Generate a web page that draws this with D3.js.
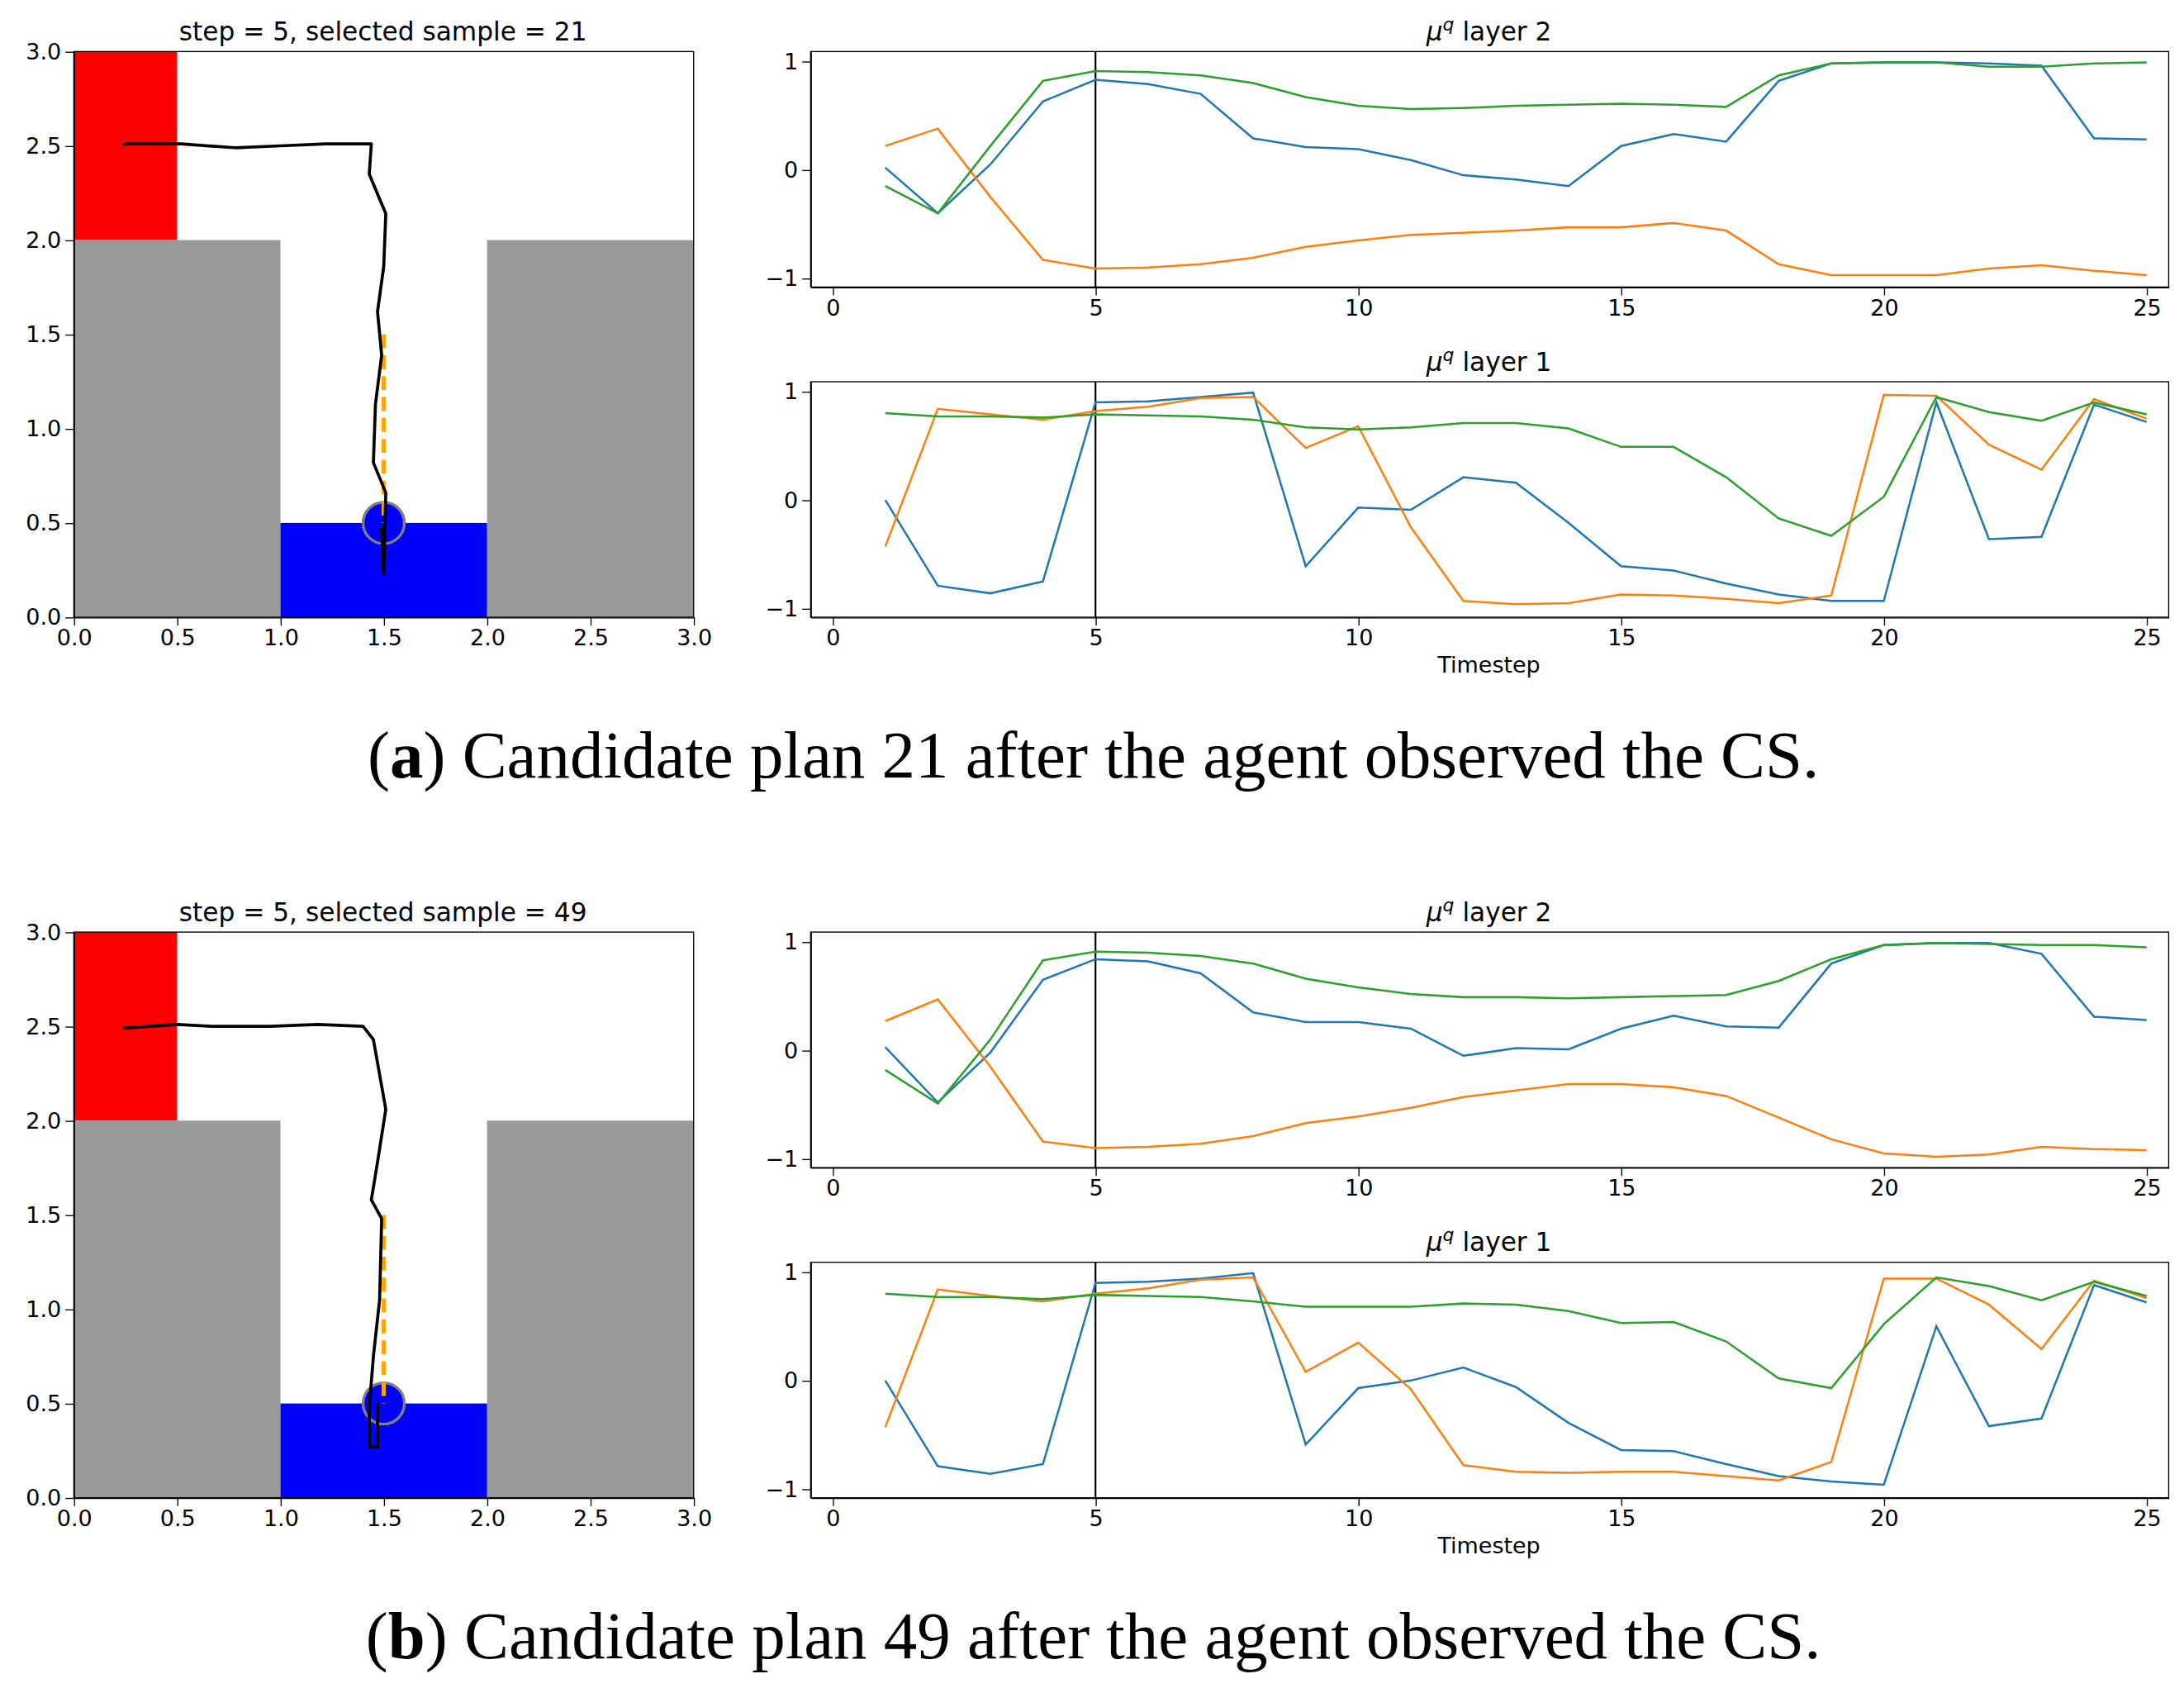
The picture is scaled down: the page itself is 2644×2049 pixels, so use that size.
<!DOCTYPE html>
<html><head><meta charset="utf-8">
<script src="https://cdn.jsdelivr.net/npm/d3@7"></script>
<style>body{margin:0;background:#fff}text{font-family:"DejaVu Sans",sans-serif}</style>
</head><body><div id="fig"></div>
<script>
// ── DATA ──────────────────────────────────────────────
const steps = d3.range(1, 26);
const tickX = [0, 5, 10, 15, 20, 25];
const tickY = [-1, 0, 1];
const gridTicks = [0, 0.5, 1, 1.5, 2, 2.5, 3];
const seriesColors = ["#1f77b4", "#ff7f0e", "#2ca02c"];

const aL2 = [
  [0.02,-0.40,0.05,0.63,0.83,0.79,0.70,0.29,0.21,0.19,0.09,-0.05,-0.09,-0.15,0.22,0.33,0.26,0.82,0.98,0.99,0.99,0.98,0.96,0.29,0.28],
  [0.22,0.38,-0.25,-0.83,-0.91,-0.90,-0.87,-0.81,-0.71,-0.65,-0.60,-0.58,-0.56,-0.53,-0.53,-0.49,-0.56,-0.87,-0.97,-0.97,-0.97,-0.91,-0.88,-0.93,-0.97],
  [-0.15,-0.40,0.22,0.82,0.91,0.90,0.87,0.80,0.67,0.59,0.56,0.57,0.59,0.60,0.61,0.60,0.58,0.87,0.98,0.99,0.99,0.95,0.95,0.98,0.99]
];
const aL1 = [
  [0.0,-0.79,-0.86,-0.75,0.90,0.91,0.95,0.99,-0.61,-0.07,-0.09,0.21,0.16,-0.21,-0.61,-0.65,-0.77,-0.87,-0.93,-0.93,0.90,-0.36,-0.34,0.88,0.72],
  [-0.43,0.84,0.79,0.74,0.82,0.86,0.94,0.95,0.48,0.68,-0.25,-0.93,-0.96,-0.95,-0.87,-0.88,-0.91,-0.95,-0.88,0.97,0.96,0.51,0.28,0.93,0.75],
  [0.80,0.77,0.77,0.76,0.79,0.78,0.77,0.74,0.67,0.65,0.67,0.71,0.71,0.66,0.49,0.49,0.21,-0.17,-0.33,0.03,0.95,0.81,0.73,0.90,0.79]
];
const bL2 = [
  [0.03,-0.48,-0.02,0.65,0.84,0.82,0.71,0.35,0.26,0.26,0.20,-0.05,0.02,0.01,0.20,0.32,0.22,0.21,0.80,0.97,0.99,0.99,0.89,0.31,0.28],
  [0.27,0.47,-0.15,-0.84,-0.90,-0.89,-0.86,-0.79,-0.67,-0.61,-0.53,-0.43,-0.37,-0.31,-0.31,-0.34,-0.42,-0.62,-0.82,-0.95,-0.98,-0.96,-0.89,-0.91,-0.92],
  [-0.18,-0.49,0.10,0.83,0.91,0.90,0.87,0.80,0.66,0.58,0.52,0.49,0.49,0.48,0.49,0.50,0.51,0.64,0.84,0.97,0.99,0.98,0.97,0.97,0.95]
];
const bL1 = [
  [0.0,-0.79,-0.86,-0.77,0.90,0.91,0.94,0.99,-0.59,-0.07,0.0,0.12,-0.06,-0.39,-0.64,-0.65,-0.77,-0.88,-0.93,-0.96,0.50,-0.42,-0.35,0.88,0.72],
  [-0.43,0.84,0.78,0.73,0.80,0.85,0.93,0.95,0.08,0.35,-0.08,-0.78,-0.84,-0.85,-0.84,-0.84,-0.88,-0.92,-0.75,0.94,0.94,0.70,0.29,0.92,0.76],
  [0.80,0.77,0.77,0.75,0.79,0.78,0.77,0.73,0.68,0.68,0.68,0.71,0.70,0.64,0.53,0.54,0.36,0.02,-0.07,0.52,0.95,0.87,0.74,0.91,0.78]
];
const pathA = [[0.24,2.50],[0.25,2.51],[0.52,2.51],[0.78,2.49],[1.0,2.50],[1.22,2.51],[1.44,2.51],[1.43,2.35],[1.51,2.14],[1.50,1.86],[1.47,1.62],[1.49,1.39],[1.46,1.13],[1.45,0.82],[1.51,0.66],[1.50,0.23],[1.49,0.47],[1.48,0.47]];
const pathB = [[0.24,2.49],[0.5,2.51],[0.67,2.50],[0.95,2.50],[1.18,2.51],[1.40,2.50],[1.45,2.43],[1.51,2.06],[1.47,1.78],[1.44,1.58],[1.49,1.48],[1.48,1.05],[1.45,0.75],[1.43,0.48],[1.43,0.27],[1.47,0.27],[1.47,0.5]];
const plan = [[1.5,1.5],[1.5,0.5]];
const panels = [
  {title: "step = 5, selected sample = 21", l2: aL2, l1: aL1, traj: pathA, letter: "a", caption: " Candidate plan 21 after the agent observed the CS."},
  {title: "step = 5, selected sample = 49", l2: bL2, l1: bL1, traj: pathB, letter: "b", caption: " Candidate plan 49 after the agent observed the CS."}
];

// ── SETUP (drawn in 1568-wide units, scaled up) ────────
const W = 2644, H = 2049, k = W / 1568;
const svg = d3.select("#fig").append("svg").attr("width", W).attr("height", H);
const root = svg.append("g").attr("transform", `scale(${k})`);

function axisStyle(g) {
  g.selectAll("text").style("font-size", "16px").attr("fill", "#000");
  g.selectAll("line,path").attr("stroke", "#000").attr("stroke-width", 0.8);
}

function gridWorld(g, p) {
  const x = d3.scaleLinear().domain([0, 3]).range([53, 498]);
  const y = d3.scaleLinear().domain([0, 3]).range([443, 37]);
  const rect = (x0, y0, x1, y1, c) => g.append("rect").attr("x", x(x0)).attr("y", y(y1))
    .attr("width", x(x1) - x(x0)).attr("height", y(y0) - y(y1)).attr("fill", c);
  rect(0, 2, 0.5, 3, "#ff0000");
  rect(0, 0, 1, 2, "#999999");
  rect(2, 0, 3, 2, "#999999");
  rect(1, 0, 2, 0.5, "#0000ff");
  g.append("circle").attr("cx", x(1.5)).attr("cy", y(0.5)).attr("r", x(0.1) - x(0))
    .attr("fill", "#0000ff").attr("stroke", "#808080").attr("stroke-width", 2);
  const line = d3.line().x(d => x(d[0])).y(d => y(d[1]));
  g.append("path").attr("d", line(plan)).attr("fill", "none").attr("stroke", "#ffa500")
    .attr("stroke-width", 3).attr("stroke-dasharray", "10,5");
  g.append("path").attr("d", line(p.traj)).attr("fill", "none").attr("stroke", "#000")
    .attr("stroke-width", 2.2).attr("stroke-linejoin", "round");
  g.append("rect").attr("x", 53).attr("y", 37).attr("width", 445).attr("height", 406)
    .attr("fill", "none").attr("stroke", "#000").attr("stroke-width", 0.8);
  g.append("g").attr("transform", "translate(0,443)")
    .call(d3.axisBottom(x).tickValues(gridTicks).tickFormat(d3.format(".1f")).tickSizeOuter(0)).call(axisStyle);
  g.append("g").attr("transform", "translate(53,0)")
    .call(d3.axisLeft(y).tickValues(gridTicks).tickFormat(d3.format(".1f")).tickSizeOuter(0)).call(axisStyle);
  g.append("text").attr("x", 275).attr("y", 29).attr("text-anchor", "middle")
    .style("font-size", "18.5px").text(p.title);
}

function linePanel(g, data, top, layer, xlabel) {
  const bottom = top + 169;
  const x = d3.scaleLinear().domain([-0.42, 25.42]).range([582, 1557]);
  const y = d3.scaleLinear().domain([-1.08, 1.09]).range([bottom, top]);
  g.append("line").attr("x1", x(5)).attr("x2", x(5)).attr("y1", top).attr("y2", bottom)
    .attr("stroke", "#000").attr("stroke-width", 1.3);
  const line = d3.line().x((d, i) => x(steps[i])).y(d => y(d));
  data.forEach((s, i) => g.append("path").attr("d", line(s)).attr("fill", "none")
    .attr("stroke", seriesColors[i]).attr("stroke-width", 1.5));
  g.append("rect").attr("x", 582).attr("y", top).attr("width", 975).attr("height", 169)
    .attr("fill", "none").attr("stroke", "#000").attr("stroke-width", 0.8);
  g.append("g").attr("transform", `translate(0,${bottom})`)
    .call(d3.axisBottom(x).tickValues(tickX).tickFormat(d3.format("d")).tickSizeOuter(0)).call(axisStyle);
  g.append("g").attr("transform", "translate(582,0)")
    .call(d3.axisLeft(y).tickValues(tickY).tickFormat(d => d < 0 ? "\u22121" : d).tickSizeOuter(0)).call(axisStyle);
  const t = g.append("text").attr("x", 1069).attr("y", top - 8).attr("text-anchor", "middle").style("font-size", "18.5px");
  t.append("tspan").style("font-style", "italic").text("\u03bc");
  t.append("tspan").attr("dy", -7).style("font-size", "13px").style("font-style", "italic").text("q");
  t.append("tspan").attr("dy", 7).text(" layer " + layer);
  if (xlabel) g.append("text").attr("x", 1069).attr("y", bottom + 40).attr("text-anchor", "middle")
    .style("font-size", "16px").text("Timestep");
}

panels.forEach((p, i) => {
  const g = root.append("g").attr("transform", `translate(0,${i * 632})`);
  gridWorld(g, p);
  linePanel(g, p.l2, 37, 2, false);
  linePanel(g, p.l1, 274, 1, true);
  const c = g.append("text").attr("x", 785).attr("y", 558).attr("text-anchor", "middle")
    .style("font-family", "'Liberation Serif', 'DejaVu Serif', serif").style("font-size", "48px");
  c.append("tspan").text("(");
  c.append("tspan").style("font-weight", "bold").text(p.letter);
  c.append("tspan").text(")" + p.caption);
});
</script></body></html>
